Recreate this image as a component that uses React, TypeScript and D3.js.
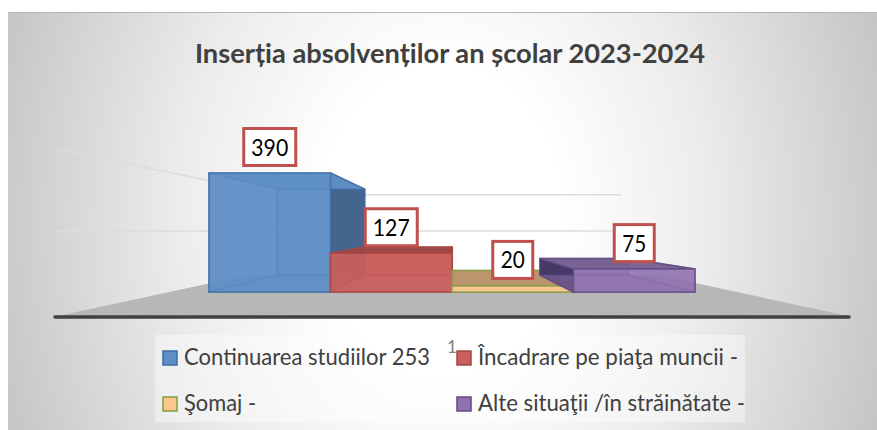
import React from "react";
import * as d3 from "d3";

const title = "Inserția absolvenților an școlar 2023-2024";
const categories = ["Continuarea", "Incadrare", "Somaj", "Alte"];
const values = [390, 127, 20, 75];
const wallTicks = [200, 365];
const legendLabels = [
  "Continuarea studiilor 253",
  "Încadrare pe piaţa muncii -",
  "Şomaj -",
  "Alte situaţii /în străinătate -",
];
const fills = ["#5f8ec6", "#c95f5c", "#fcc68c", "#8f72b0"];
const strokes = ["#3d6ca6", "#a84543", "#7f9f3f", "#5f4a84"];
const sideFills = ["#3a5a82", "#7a2f2d", "#6f4a20", "#352a55"];
const topFills = ["#5f8ec6", "#9c4846", "#b8926a", "#75608f"];
const legendWidths = [246, 260, 72, 267];

const W = 877, H = 430;
const vp: [number, number] = [453, 231];
const depth = 0.721;
const x = d3.scaleBand<string>().domain(categories).range([209, 695]);
const y = d3.scaleLinear().domain([0, 390]).range([292, 173]);
const back = (p: [number, number]): [number, number] => [
  vp[0] + depth * (p[0] - vp[0]),
  vp[1] + depth * (p[1] - vp[1]),
];
const poly = d3.line<[number, number]>().curve(d3.curveLinearClosed);
const floorFront = 317;
const floorBack = back([0, 292])[1];
const fl = (side: number, yy: number): [number, number] => {
  const t = (yy - vp[1]) / (floorFront - vp[1]);
  return [vp[0] + side * 400 * t, yy];
};

const font = "Lato, 'Open Sans', sans-serif";

function Box({ i }: { i: number }) {
  const x0 = x(categories[i])!;
  const x1 = x0 + x.bandwidth();
  const yb = y(0);
  const yt = y(values[i]);
  const fbl: [number, number] = [x0, yb], fbr: [number, number] = [x1, yb];
  const ftl: [number, number] = [x0, yt], ftr: [number, number] = [x1, yt];
  const bbl = back(fbl), bbr = back(fbr), btl = back(ftl), btr = back(ftr);
  const st = strokes[i];
  const face = (pts: [number, number][], fill: string, op: number) => (
    <path d={poly(pts)!} fill={fill} fillOpacity={op} stroke={st} strokeOpacity={0.75} strokeWidth={1.5} strokeLinejoin="round" />
  );
  return (
    <g>
      {face([bbl, bbr, btr, btl], fills[i], 0.8)}
      {face([fbl, bbl, btl, ftl], i === 3 ? sideFills[i] : fills[i], i === 3 ? 0.85 : 0.5)}
      {face([fbl, fbr, bbr, bbl], fills[i], 0.5)}
      {face([fbr, bbr, btr, ftr], sideFills[i], i === 3 ? 0.1 : 0.85)}
      {face([ftl, ftr, btr, btl], topFills[i], 0.95)}
      {face([fbl, fbr, ftr, ftl], fills[i], 0.88)}
    </g>
  );
}

function Label({ i }: { i: number }) {
  const bw = values[i] >= 100 ? 52 : 40;
  const cx = x(categories[i])! + x.bandwidth() / 2;
  const bottom = y(values[i]) - 7.5;
  const tw = values[i] >= 100 ? 37 : 24;
  return (
    <g>
      <rect x={cx - bw / 2} y={bottom - 37} width={bw} height={37} fill="#fff" stroke="#c0504d" strokeWidth={3} />
      <text x={cx} y={bottom - 10} textAnchor="middle" fontFamily={font} fontSize={23} fill="#000" textLength={tw} lengthAdjust="spacingAndGlyphs">{values[i]}</text>
    </g>
  );
}

const legendPos: [number, number][] = [[163, 358], [457, 358], [163, 404], [457, 404]];
const legendTextX = [184, 478, 184, 478];

export default function App() {
  const gridLeft = 57, gridRight = 622, backLeft = back([209, 292])[0];
  const wallY = (v: number) => floorBack - depth * (y(0) - y(v));
  return (
    <svg width={W} height={H} style={{ position: "absolute", left: 0, top: 0 }}>
      <defs>
        <radialGradient id="bg" gradientUnits="userSpaceOnUse" cx={0} cy={0} r={1} gradientTransform="translate(442 221) scale(480 620)">
          <stop offset="0%" stopColor="#ffffff" />
          <stop offset="25%" stopColor="#ffffff" />
          <stop offset="55%" stopColor="#ececec" />
          <stop offset="100%" stopColor="#c2c2c2" />
        </radialGradient>
      </defs>
      <rect x={0} y={0} width={W} height={H} fill="#fff" />
      <rect x={8} y={12} width={869} height={418} fill="url(#bg)" />
      <line x1={8} x2={877} y1={12.5} y2={12.5} stroke="#b4b4b4" />
      <text x={450} y={63} textAnchor="middle" fontFamily={font} fontSize={27} fontWeight={700} fill="#404040" textLength={510} lengthAdjust="spacingAndGlyphs">{title}</text>

      {wallTicks.map((v) => {
        const yy = wallY(v);
        const leftY = vp[1] + (yy - vp[1]) * ((gridLeft - vp[0]) / (backLeft - vp[0]));
        return (
          <g key={v} stroke="#dcdcdc" strokeWidth={1.5} fill="none">
            <line x1={gridLeft} y1={leftY} x2={backLeft} y2={yy} />
            <line x1={backLeft} y1={yy} x2={gridRight} y2={yy} />
          </g>
        );
      })}

      <path d={poly([fl(-1, floorFront), fl(1, floorFront), fl(1, floorBack), fl(-1, floorBack)])!} fill="#b7b7b7" />
      <line x1={55} x2={849} y1={317} y2={317} stroke="#404040" strokeWidth={3.5} strokeLinecap="round" />

      {categories.map((c, i) => <Box key={c} i={i} />)}
      {categories.map((c, i) => <Label key={c} i={i} />)}

      <rect x={155} y={335} width={590} height={87} fill="#fff" fillOpacity={0.4} />
      {legendLabels.map((t, i) => (
        <g key={t}>
          <rect x={legendPos[i][0]} y={legendPos[i][1] - 7} width={14} height={14} fill={fills[i]} stroke={strokes[i]} strokeWidth={1.5} />
          <text x={legendTextX[i]} y={legendPos[i][1] + 7} fontFamily={font} fontSize={23} fill="#404040" textLength={legendWidths[i]} lengthAdjust="spacingAndGlyphs">{t}</text>
        </g>
      ))}
      <text x={447} y={353} fontFamily={font} fontSize={17} fill="#7f7f7f">1</text>
    </svg>
  );
}
